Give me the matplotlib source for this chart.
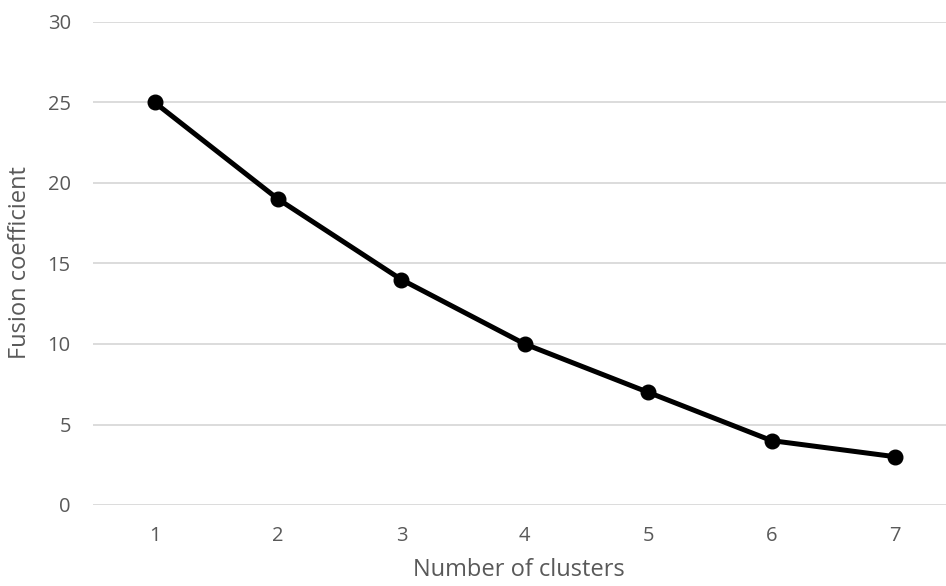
import matplotlib
matplotlib.use("Agg")
import matplotlib.pyplot as plt

clusters = [1, 2, 3, 4, 5, 6, 7]
fusion = [25, 19, 14, 10, 7, 4, 3]
yticks = [0, 5, 10, 15, 20, 25, 30]

plt.rcParams['font.family'] = ['Open Sans', 'DejaVu Sans']
grey = '#595959'

fig = plt.figure(figsize=(9.46, 5.86), dpi=100)
W = 956.6 - 93
H = 505 - 22
ax = fig.add_axes([93/946, 81/586, W/946, H/586])
ax.plot(clusters, fusion, color='black', lw=3.6, marker='o', ms=10.5, zorder=3, clip_on=False)
ax.set_xlim(0.5, 7.5)
ax.set_ylim(0, 30)
ax.set_yticks(yticks)
ax.set_xticks(clusters)
ax.grid(axis='y', color='#d9d9d9', lw=1.3)
ax.set_axisbelow(True)
for s in ax.spines.values():
    s.set_visible(False)
ax.tick_params(length=0, labelsize=14.5, labelcolor=grey)
ax.tick_params(axis='x', pad=15)
ax.tick_params(axis='y', pad=16)
ax.set_xlabel('Number of clusters', fontsize=17, color=grey)
ax.xaxis.set_label_coords((519-93)/W, -(558-505)/H)
ax.set_ylabel('Fusion coefficient', fontsize=17, color=grey)
ax.yaxis.set_label_coords(-(93-32)/W, (505-263)/H)
fig.savefig('out.png', dpi=100)
